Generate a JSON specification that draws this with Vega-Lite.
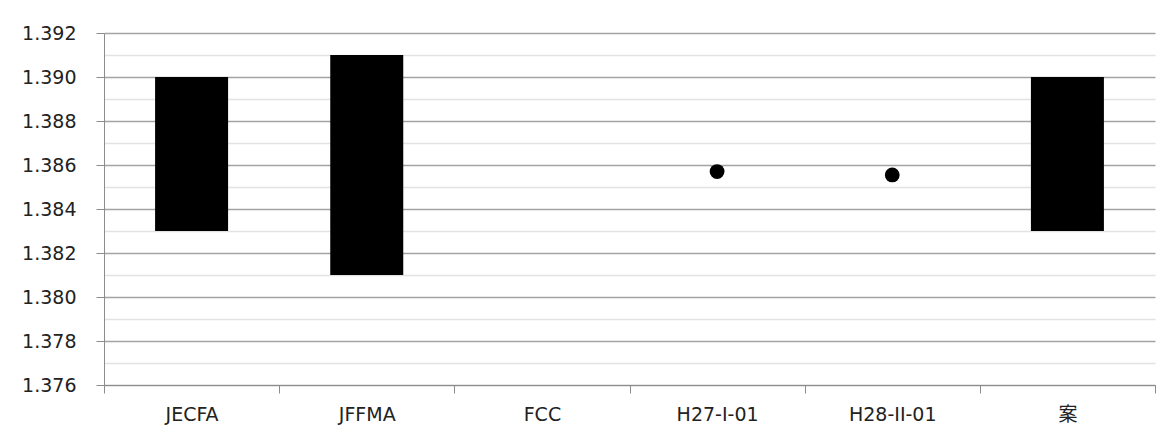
{
  "$schema": "https://vega.github.io/schema/vega-lite/v6.json",
  "width": 1051,
  "height": 352,
  "autosize": {"type": "none"},
  "padding": {"left": 104, "top": 33, "right": 19, "bottom": 58},
  "background": "white",
  "config": {
    "view": {"stroke": null},
    "font": "DejaVu Sans, Noto Sans CJK JP"
  },
  "data": {
    "values": [
      {"name": "JECFA", "lo": 1.383, "hi": 1.390},
      {"name": "JFFMA", "lo": 1.381, "hi": 1.391},
      {"name": "H27-I-01", "v": 1.3857},
      {"name": "H28-II-01", "v": 1.38555},
      {"name": "案", "lo": 1.383, "hi": 1.390}
    ]
  },
  "encoding": {
    "x": {
      "field": "name",
      "type": "nominal",
      "sort": null,
      "scale": {
        "domain": ["JECFA", "JFFMA", "FCC", "H27-I-01", "H28-II-01", "案"],
        "paddingInner": 0,
        "paddingOuter": 0
      },
      "axis": {
        "title": null,
        "labelAngle": 0,
        "tickBand": "extent",
        "grid": false,
        "tickSize": 8,
        "tickColor": "#8c8c8c",
        "domainColor": "#8c8c8c",
        "labelFontSize": 19,
        "labelColor": "#222222",
        "labelPadding": 12
      }
    }
  },
  "resolve": {"axis": {"y": "independent"}},
  "layer": [
    {
      "transform": [{"filter": "isValid(datum.v)"}],
      "mark": {"type": "circle", "size": 219, "color": "black", "opacity": 1},
      "encoding": {
        "y": {
          "field": "v",
          "type": "quantitative",
          "scale": {"domain": [1.376, 1.392], "nice": false, "zero": false},
          "axis": {
            "orient": "left",
            "title": null,
            "values": [1.377, 1.379, 1.381, 1.383, 1.385, 1.387, 1.389, 1.391],
            "grid": true,
            "gridColor": "#e2e2e2",
            "gridWidth": 1.5,
            "labels": false,
            "ticks": false,
            "domain": false
          }
        }
      }
    },
    {
      "transform": [{"filter": "isValid(datum.lo)"}],
      "mark": {"type": "bar", "size": 73, "color": "black"},
      "encoding": {
        "y": {
          "field": "lo",
          "type": "quantitative",
          "axis": {
            "orient": "left",
            "title": null,
            "values": [1.376, 1.378, 1.38, 1.382, 1.384, 1.386, 1.388, 1.39, 1.392],
            "format": ".3f",
            "grid": true,
            "gridColor": "#a3a3a3",
            "gridWidth": 1.5,
            "tickSize": 8,
            "tickColor": "#8c8c8c",
            "domainColor": "#8c8c8c",
            "labelFontSize": 19,
            "labelColor": "#222222",
            "labelPadding": 20
          }
        },
        "y2": {"field": "hi"}
      }
    }
  ]
}
